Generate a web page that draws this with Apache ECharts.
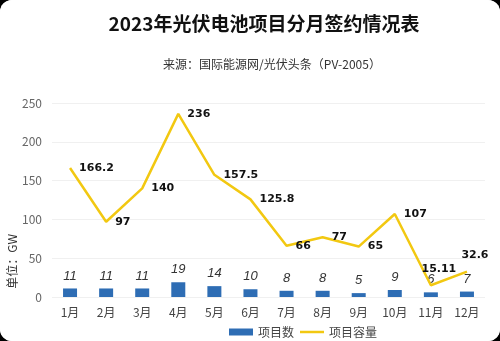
<!DOCTYPE html>
<html>
<head>
<meta charset="utf-8">
<script src="https://cdn.jsdelivr.net/npm/echarts@6/dist/echarts.min.js"></script>
<style>
html,body{margin:0;padding:0;background:#000;}
#c{width:500px;height:341px;background:#fff;border-radius:12px;overflow:hidden;}
</style>
</head>
<body>
<div id="c"></div>
<script>
const categories = ['1月','2月','3月','4月','5月','6月','7月','8月','9月','10月','11月','12月'];
const projectCount = [11,11,11,19,14,10,8,8,5,9,6,7];
const projectCapacity = [166.2,97,140,236,157.5,125.8,66,77,65,107,15.11,32.6];
const yTicks = [0,50,100,150,200,250];

const FF = '"Noto Sans CJK SC", "Noto Sans", sans-serif';
const chart = echarts.init(document.getElementById('c'), null, {renderer:'canvas'});
const capData = projectCapacity.map((v,i)=>{
  const d = {value:v};
  if (i >= 10) d.label = {position:'top', offset:[8,-2]};
  return d;
});
chart.setOption({
  backgroundColor:'#fff',
  animation:false,
  textStyle:{fontFamily:FF},
  title:[
    {text:'2023年光伏电池项目分月签约情况表', left:259, top:9, textAlign:'center',
     textStyle:{fontSize:19, fontWeight:'bold', color:'#111', fontFamily:FF}},
    {text:'来源：国际能源网/光伏头条（PV-2005）', left:267, top:53, textAlign:'center',
     textStyle:{fontSize:12, fontWeight:'normal', color:'#333', fontFamily:FF}}
  ],
  legend:{left:224, top:321, itemGap:6, itemWidth:24, itemHeight:7,
    textStyle:{fontSize:12, color:'#444', fontFamily:FF},
    data:[{name:'项目数', icon:'rect'}, {name:'项目容量', icon:'path://M0,0H24V2.5H0Z'}]},
  grid:{left:52, right:15, top:103, bottom:44},
  graphic:[{type:'text', left:6, top:234, rotation:Math.PI/2,
    style:{text:'单位：GW', fontSize:12, fill:'#333', fontFamily:FF}}],
  xAxis:{type:'category', data:categories,
    axisLine:{show:false}, axisTick:{show:false},
    axisLabel:{fontSize:12, color:'#444', margin:9, fontFamily:FF}},
  yAxis:{type:'value', min:0, max:250, interval:50,
    axisLine:{show:false}, axisTick:{show:false},
    axisLabel:{fontSize:12, color:'#666', margin:10, fontFamily:FF,
      formatter:v=>yTicks.includes(v)?String(v):''},
    splitLine:{lineStyle:{color:'#f0f0f0'}}},
  series:[
    {name:'项目数', type:'bar', data:projectCount, barWidth:14,
     itemStyle:{color:'#2E6DB4'},
     label:{show:true, position:'top', distance:6, fontSize:13, fontStyle:'italic',
       color:'#333', fontFamily:'"Liberation Sans", sans-serif'}},
    {name:'项目容量', type:'line', data:capData, symbol:'circle', symbolSize:0.1, showSymbol:true,
     lineStyle:{color:'#F2C811', width:2.5}, itemStyle:{color:'#F2C811'},
     label:{show:true, position:'right', distance:9, fontSize:11, fontWeight:'bold',
       color:'#111', fontFamily:'"DejaVu Sans", sans-serif'}}
  ]
});
</script>
</body>
</html>
